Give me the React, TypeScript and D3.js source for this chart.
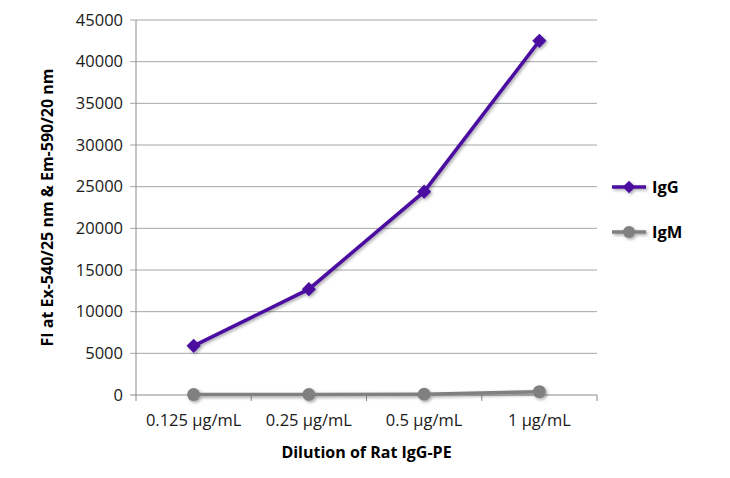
import React from 'react';
import * as d3 from 'd3';

const categories = ['0.125 µg/mL', '0.25 µg/mL', '0.5 µg/mL', '1 µg/mL'];
const igG = [5900, 12700, 24400, 42500];
const igM = [50, 60, 90, 400];
const yTicks = [0, 5000, 10000, 15000, 20000, 25000, 30000, 35000, 40000, 45000];

const App: React.FC = () => {
  const width = 730;
  const height = 478;
  const margin = { top: 20, right: 133, bottom: 83, left: 136 };
  const innerW = width - margin.left - margin.right;
  const innerH = height - margin.top - margin.bottom;

  const x = d3.scaleBand().domain(categories).range([0, innerW]);
  const y = d3.scaleLinear().domain([0, 45000]).range([innerH, 0]);
  const cx = (c: string) => x(c)! + x.bandwidth() / 2;

  const line = d3.line<number>()
    .x((_, i) => cx(categories[i]))
    .y((d) => y(d));

  const font = "'Open Sans', 'Noto Sans', sans-serif";
  const purple = '#4b0ca0';
  const gray = '#808080';

  return (
    <svg width={width} height={height} style={{ position: 'absolute', left: 0, top: 0 }}>
      <defs>
        <filter id="shadow" x="-50%" y="-50%" width="200%" height="200%">
          <feDropShadow dx="1.5" dy="1.5" stdDeviation="1.5" floodColor="#000" floodOpacity="0.35" />
        </filter>
      </defs>
      <rect width={width} height={height} fill="#fff" />
      <g transform={`translate(${margin.left},${margin.top})`}>
        {yTicks.map((t) => (
          <g key={t}>
            <line x1={-6} x2={innerW} y1={y(t)} y2={y(t)} stroke={t === 0 ? '#8a8a8a' : '#a6a6a6'} strokeWidth={1} />
            <text x={-13} y={y(t)} dy="0.35em" textAnchor="end" fontFamily={font} fontSize={16.5} fill="#1a1a1a">
              {t}
            </text>
          </g>
        ))}
        <line x1={0} x2={0} y1={0} y2={innerH} stroke="#8a8a8a" />
        {[0, 1, 2, 3, 4].map((i) => (
          <line key={i} x1={i * x.bandwidth()} x2={i * x.bandwidth()} y1={innerH} y2={innerH + 6} stroke="#8a8a8a" />
        ))}
        {categories.map((c) => (
          <text key={c} x={cx(c)} y={innerH + 31} textAnchor="middle" fontFamily={font} fontSize={16.5} fill="#1a1a1a">
            {c}
          </text>
        ))}

        <g filter="url(#shadow)">
          <path d={line(igM)!} fill="none" stroke={gray} strokeWidth={3.5} />
          {igM.map((v, i) => (
            <circle key={i} cx={cx(categories[i])} cy={y(v)} r={6.5} fill={gray} />
          ))}
          <path d={line(igG)!} fill="none" stroke={purple} strokeWidth={3.5} />
          {igG.map((v, i) => (
            <rect key={i} x={-5} y={-5} width={10} height={10} fill={purple}
              transform={`translate(${cx(categories[i])},${y(v)}) rotate(45)`} />
          ))}
        </g>
      </g>

      <text transform={`translate(53,${margin.top + innerH / 2}) rotate(-90)`} textAnchor="middle"
        fontFamily={font} fontSize={16} fontWeight="bold" fill="#000">
        FI at Ex-540/25 nm &amp; Em-590/20 nm
      </text>
      <text x={margin.left + innerW / 2} y={458} textAnchor="middle" fontFamily={font} fontSize={16}
        fontWeight="bold" fill="#000">
        Dilution of Rat IgG-PE
      </text>

      <g filter="url(#shadow)">
        <line x1={612} x2={646} y1={187} y2={187} stroke={purple} strokeWidth={3.5} />
        <rect x={-4.5} y={-4.5} width={9} height={9} fill={purple} transform="translate(629,187) rotate(45)" />
        <line x1={612} x2={646} y1={232} y2={232} stroke={gray} strokeWidth={3.5} />
        <circle cx={629} cy={232} r={6} fill={gray} />
      </g>
      <text x={652} y={187} dy="0.35em" fontFamily={font} fontSize={16.5} fontWeight="bold" fill="#000">IgG</text>
      <text x={652} y={232} dy="0.35em" fontFamily={font} fontSize={16.5} fontWeight="bold" fill="#000">IgM</text>
    </svg>
  );
};

export default App;
